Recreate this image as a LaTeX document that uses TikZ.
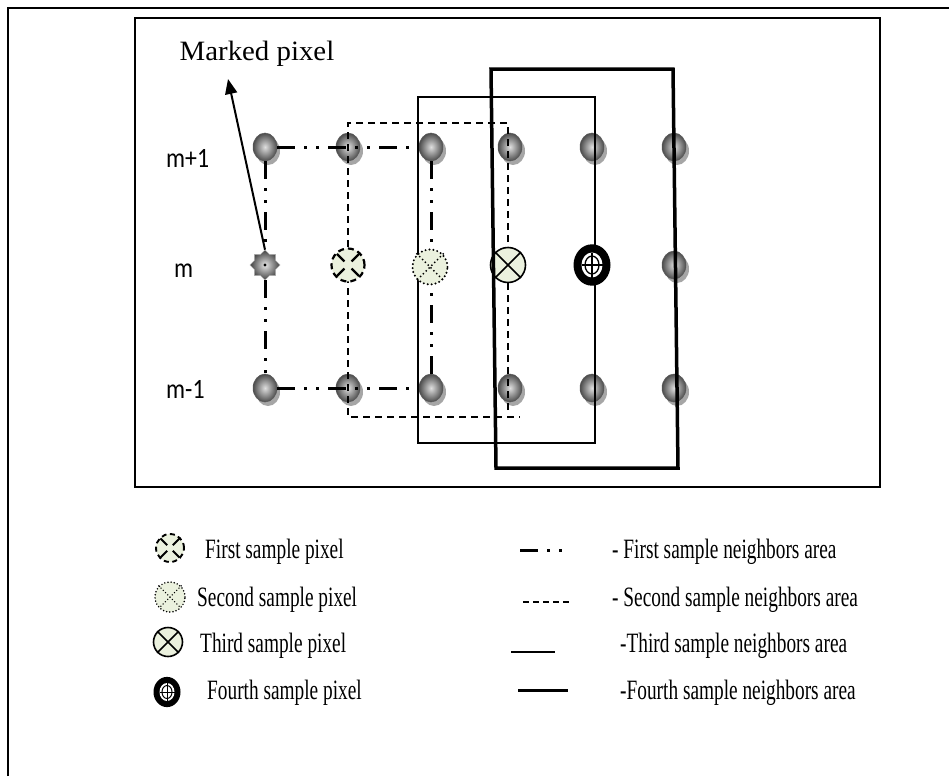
\documentclass[tikz,border=0pt]{standalone}
\usepackage{fontspec}
\setmainfont{Liberation Serif}
\newfontfamily\calib{Carlito}
\usetikzlibrary{shapes.geometric,shadows,arrows.meta}
\definecolor{pale}{RGB}{235,241,222}
\begin{document}
\begin{tikzpicture}[x=1pt,y=-1pt,
  ball/.style={ellipse, minimum width=24pt, minimum height=28pt, inner sep=0pt,
    draw=black!65, line width=0.5pt, shade, inner color=gray!25, outer color=black!70,
    drop shadow={shadow xshift=3pt, shadow yshift=-4pt, fill=gray!70, opacity=1}},
  marked/.style={star, star points=8, star point ratio=1.3, minimum size=30pt, inner sep=0pt,
    draw=gray!60, shade, inner color=gray!20, outer color=black!75},
  firstpx/.style={circle, minimum size=#1, inner sep=0pt, fill=pale, draw=black,
    line width=2.2pt, dash pattern=on 6pt off 4pt},
  secondpx/.style={circle, minimum size=#1, inner sep=0pt, fill=pale, draw=black,
    line width=2.2pt, line cap=round, dash pattern=on 0pt off 4pt},
  thirdpx/.style={circle, minimum size=#1, inner sep=0pt, fill=pale, draw=black, line width=1.6pt},
  fourthpx/.style={ellipse, minimum width=#1, minimum height=1.12*#1, inner sep=0pt, fill=black},
  firstarea/.style={line width=3pt, dash pattern=on 18pt off 9pt on 3pt off 9pt on 3pt off 9pt},
  secondarea/.style={line width=1.6pt, dash pattern=on 7pt off 5pt},
  thirdarea/.style={line width=1.1pt},
  fourtharea/.style={line width=3.5pt},
  rowlab/.style={anchor=base west, font=\calib\fontsize{28}{32}\selectfont, inner sep=0pt},
  legtxt/.style={anchor=base west, font=\fontsize{28}{32}\selectfont, inner sep=0pt},
]
\useasboundingbox (0,0) rectangle (949,776);
% outer frame (top and left only)
\draw[line width=1.6pt] (8,776) -- (8,8) -- (949,8);
% inner box
\draw[line width=1.6pt] (135,18) rectangle (880,487);

% row labels
\node[rowlab] (lm1) at (166,167) {\scalebox{0.85}[1]{m+1}};
\node[rowlab] (lm0) at (174,277) {\scalebox{0.85}[1]{m}};
\node[rowlab] (lmm) at (166,398) {\scalebox{0.85}[1]{m-1}};

% balls
\foreach \i/\x in {1/265,2/348,3/431,4/510,5/592,6/674}{
  \node[ball] (t\i) at (\x,147) {};
  \node[ball] (u\i) at (\x,388) {};
}
\node[ball] (r6) at (674,265) {};

% area rectangles 2 and 3
\draw[secondarea] (508,410) -- (508,123) -- (348,123) -- (348,417) -- (520,417);
\draw[thirdarea] (418,97) rectangle (595,443);

% sample pixels
\node[marked] (mk) at (265,265) {};
\fill (mk.center) circle (1.6pt);
\node[firstpx=33pt] (s1) at (348,265) {};
\foreach \a in {north west,north east,south west,south east}{
  \draw[line width=2.2pt, shorten <=2pt, shorten >=5pt] (s1.\a) -- (s1.center);
}
\node[secondpx=35pt] (s2) at (430,267) {};
\draw[line width=2pt, line cap=round, dash pattern=on 0pt off 4pt] (s2.north west) -- (s2.south east);
\draw[line width=2pt, line cap=round, dash pattern=on 0pt off 4pt] (s2.north east) -- (s2.south west);
\node[thirdpx=35pt] (s3) at (508,265) {};
\draw[line width=1.6pt] (s3.north west) -- (s3.south east) (s3.north east) -- (s3.south west);
\node[fourthpx=37pt] (s4) at (592,265) {};
\fill[white] (s4.center) ellipse (10.5 and 12.5);
\draw[line width=1.3pt] (s4.center) ellipse (7 and 9);
\draw[line width=1.3pt] (s4.center) ++(0,-12.5) -- ++(0,25);
\draw[line width=1.3pt] (s4.center) ++(-10.5,0) -- ++(21,0);

% area rectangle 4
\draw[fourtharea, line join=miter] (491,69) -- (673,69) -- (678,468) -- (496,468) -- cycle;

% area rectangle 1 (node to node)
\draw[firstarea] (t1) -- (t3);
\draw[firstarea] (u1) -- (u3);
\draw[firstarea] (t1) -- (mk);
\draw[firstarea] (mk) -- (u1);
\draw[firstarea] (t3) -- (t3 |- s2.north);
\draw[firstarea] (u3) -- (u3 |- s2.south);

% marked pixel label and arrow
\node[font=\fontsize{28}{32}\selectfont, inner sep=0pt] (mp) at (257,54) {\scalebox{1.03}[1]{Marked pixel}};
\coordinate (mtip) at (228,79);
\draw[line width=2pt, -{Triangle[length=15pt,width=12pt]}] (mk.north) -- (mtip);

% legend icons
\node[firstpx=28pt, line width=1.9pt, dash pattern=on 5pt off 3.5pt] (l1) at (170,548) {};
\foreach \a in {north west,north east,south west,south east}{
  \draw[line width=1.9pt, shorten <=1.5pt, shorten >=4pt] (l1.\a) -- (l1.center);
}
\node[secondpx=30pt, line width=1.7pt, dash pattern=on 0pt off 3.2pt] (l2) at (170,597) {};
\draw[line width=1.5pt, line cap=round, dash pattern=on 0pt off 3.2pt] (l2.north west) -- (l2.south east);
\draw[line width=1.5pt, line cap=round, dash pattern=on 0pt off 3.2pt] (l2.north east) -- (l2.south west);
\node[thirdpx=29pt] (l3) at (168,642) {};
\draw[line width=1.6pt] (l3.north west) -- (l3.south east) (l3.north east) -- (l3.south west);
\node[fourthpx=27pt] (l4) at (167,692) {};
\fill[white] (l4.center) ellipse (7.5 and 9);
\draw[line width=1pt] (l4.center) ellipse (5 and 6.5);
\draw[line width=1pt] (l4.center) ++(0,-9) -- ++(0,18);
\draw[line width=1pt] (l4.center) ++(-7.5,0) -- ++(15,0);

% legend texts
\node[legtxt] (t1l) at (205,558) {\scalebox{0.69}[1]{First sample pixel}};
\node[legtxt] (t2l) at (197,606) {\scalebox{0.69}[1]{Second sample pixel}};
\node[legtxt] (t3l) at (200,652) {\scalebox{0.69}[1]{Third sample pixel}};
\node[legtxt] (t4l) at (207,699) {\scalebox{0.69}[1]{Fourth sample pixel}};

% legend line samples
\draw[firstarea] (520,550) -- (568,550);
\draw[line width=1.3pt, dash pattern=on 6pt off 4pt] (523,602) -- (570,602);
\draw[line width=1.2pt] (511,652) -- (555,652);
\draw[line width=3pt] (518,690) -- (568,690);

\node[legtxt] (a1) at (612,558) {\scalebox{0.69}[1]{- First sample neighbors area}};
\node[legtxt] (a2) at (612,606) {\scalebox{0.69}[1]{- Second sample neighbors area}};
\node[legtxt] (a3) at (620,652) {\scalebox{0.69}[1]{-Third sample neighbors area}};
\node[legtxt] (a4) at (620,699) {\scalebox{0.69}[1]{-Fourth sample neighbors area}};
\end{tikzpicture}
\end{document}
